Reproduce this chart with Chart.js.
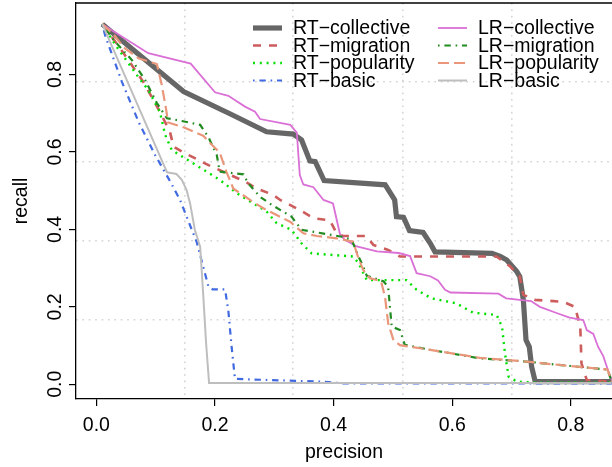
<!DOCTYPE html>
<html>
<head>
<meta charset="utf-8">
<script src="https://cdn.jsdelivr.net/npm/chart.js@4.4.1/dist/chart.umd.min.js"></script>
<style>
  html, body { margin: 0; padding: 0; background: #ffffff; }
  canvas { display: block; }
</style>
</head>
<body>
<canvas id="pr" width="612" height="467"></canvas>
<script>
// ── Data ─────────────────────────────────────────────────────────
const RT_COLLECTIVE_P = [0.010, 0.147, 0.226, 0.287, 0.332, 0.346, 0.360, 0.369, 0.384, 0.487, 0.503, 0.506, 0.518, 0.528, 0.551, 0.563, 0.571, 0.667, 0.681, 0.692, 0.709, 0.714, 0.720, 0.7245, 0.730, 0.734, 0.740, 0.869];
const RT_COLLECTIVE_R = [0.930, 0.756, 0.698, 0.652, 0.646, 0.631, 0.577, 0.575, 0.526, 0.515, 0.476, 0.433, 0.431, 0.397, 0.392, 0.364, 0.342, 0.338, 0.330, 0.321, 0.291, 0.278, 0.218, 0.114, 0.097, 0.045, 0.007, 0.007];

const RT_MIGRATION_P = [0.010, 0.040, 0.079, 0.107, 0.124, 0.130, 0.144, 0.189, 0.251, 0.270, 0.298, 0.310, 0.343, 0.366, 0.394, 0.405, 0.416, 0.455, 0.467, 0.492, 0.512, 0.675, 0.698, 0.714, 0.720, 0.740, 0.787, 0.807, 0.816, 0.818, 0.827, 0.869];
const RT_MIGRATION_R = [0.930, 0.868, 0.781, 0.704, 0.652, 0.614, 0.601, 0.566, 0.523, 0.506, 0.489, 0.476, 0.450, 0.429, 0.423, 0.390, 0.383, 0.383, 0.360, 0.347, 0.330, 0.330, 0.304, 0.278, 0.231, 0.218, 0.213, 0.200, 0.149, 0.054, 0.011, 0.007];

const RT_POPULARITY_P = [0.010, 0.034, 0.068, 0.0875, 0.107, 0.116, 0.127, 0.149, 0.208, 0.237, 0.287, 0.304, 0.329, 0.346, 0.363, 0.433, 0.442, 0.456, 0.523, 0.540, 0.565, 0.607, 0.635, 0.675, 0.684, 0.689, 0.695, 0.709, 0.740, 0.869];
const RT_POPULARITY_R = [0.930, 0.872, 0.799, 0.760, 0.704, 0.644, 0.605, 0.584, 0.528, 0.493, 0.446, 0.416, 0.399, 0.364, 0.338, 0.330, 0.313, 0.269, 0.269, 0.244, 0.222, 0.209, 0.185, 0.179, 0.149, 0.080, 0.020, 0.007, 0.004, 0.004];

const RT_BASIC_P = [0.010, 0.0145, 0.043, 0.071, 0.099, 0.124, 0.141, 0.169, 0.189, 0.196, 0.217, 0.2225, 0.228, 0.2337, 0.290, 0.377, 0.420, 0.869];
const RT_BASIC_R = [0.930, 0.902, 0.781, 0.678, 0.592, 0.525, 0.476, 0.368, 0.252, 0.245, 0.245, 0.190, 0.097, 0.014, 0.011, 0.007, 0.002, 0.002];

const LR_COLLECTIVE_P = [0.010, 0.0875, 0.159, 0.200, 0.2225, 0.2506, 0.2675, 0.276, 0.327, 0.338, 0.343, 0.349, 0.366, 0.383, 0.399, 0.411, 0.419, 0.439, 0.473, 0.510, 0.529, 0.540, 0.563, 0.576, 0.588, 0.597, 0.678, 0.691, 0.733, 0.748, 0.776, 0.798, 0.821, 0.827, 0.838, 0.846, 0.855, 0.863, 0.869];
const LR_COLLECTIVE_R = [0.930, 0.855, 0.828, 0.754, 0.745, 0.717, 0.704, 0.685, 0.670, 0.650, 0.540, 0.516, 0.509, 0.476, 0.467, 0.386, 0.373, 0.356, 0.343, 0.339, 0.331, 0.287, 0.279, 0.268, 0.244, 0.237, 0.234, 0.222, 0.215, 0.200, 0.184, 0.172, 0.166, 0.140, 0.130, 0.097, 0.072, 0.035, 0.012];

const LR_MIGRATION_P = [0.010, 0.029, 0.060, 0.082, 0.102, 0.119, 0.144, 0.175, 0.189, 0.203, 0.208, 0.226, 0.248, 0.256, 0.276, 0.296, 0.329, 0.346, 0.388, 0.414, 0.4305, 0.442, 0.450, 0.456, 0.484, 0.492, 0.495, 0.498, 0.512, 0.520, 0.563, 0.647, 0.731, 0.754, 0.862, 0.869];
const LR_MIGRATION_R = [0.930, 0.889, 0.837, 0.786, 0.726, 0.687, 0.680, 0.670, 0.638, 0.592, 0.549, 0.546, 0.542, 0.519, 0.484, 0.463, 0.433, 0.399, 0.388, 0.381, 0.373, 0.330, 0.304, 0.280, 0.266, 0.252, 0.200, 0.149, 0.140, 0.102, 0.089, 0.067, 0.058, 0.054, 0.038, 0.007];

const LR_POPULARITY_P = [0.010, 0.031, 0.046, 0.071, 0.102, 0.110, 0.117, 0.121, 0.148, 0.180, 0.190, 0.208, 0.219, 0.231, 0.243, 0.259, 0.2815, 0.304, 0.3265, 0.349, 0.372, 0.405, 0.433, 0.442, 0.450, 0.461, 0.480, 0.4867, 0.492, 0.501, 0.512, 0.563, 0.647, 0.731, 0.754, 0.862, 0.869];
const LR_POPULARITY_R = [0.930, 0.900, 0.870, 0.842, 0.827, 0.775, 0.715, 0.676, 0.663, 0.642, 0.626, 0.598, 0.550, 0.505, 0.493, 0.476, 0.4545, 0.437, 0.420, 0.390, 0.383, 0.377, 0.368, 0.325, 0.295, 0.274, 0.266, 0.226, 0.158, 0.114, 0.101, 0.089, 0.068, 0.058, 0.054, 0.038, 0.007];

const LR_BASIC_P = [0.010, 0.119, 0.121, 0.135, 0.144, 0.152, 0.158, 0.166, 0.175, 0.180, 0.185, 0.190, 0.869];
const LR_BASIC_R = [0.930, 0.548, 0.547, 0.543, 0.528, 0.502, 0.467, 0.399, 0.355, 0.235, 0.106, 0.003, 0.003];

const SERIES_NAMES = ['RT\u2212collective', 'RT\u2212migration', 'RT\u2212popularity', 'RT\u2212basic',
                      'LR\u2212collective', 'LR\u2212migration', 'LR\u2212popularity', 'LR\u2212basic'];

const X_TICKS = [0.0, 0.2, 0.4, 0.6, 0.8];
const Y_TICKS = [0.0, 0.2, 0.4, 0.6, 0.8];

// R grid(): 5 equal divisions of the plot region
const X_GRID = [0.149, 0.332, 0.516, 0.700];
const Y_GRID = [0.1665, 0.371, 0.5755, 0.780];

// ── Axis ranges (plot region, right side cropped like the original) ─
const X_MIN = -0.0344, X_MAX = 0.8695;
const Y_MIN = -0.038,  Y_MAX = 0.9846;

// ── Styles ───────────────────────────────────────────────────────
const FONT = { family: '"Liberation Sans", Arial, Helvetica, sans-serif', size: 19.5 };

const STYLES = [
    { color: '#666666', width: 5.2, dash: [] },
    { color: '#CD5C5C', width: 2.6, dash: [8, 8] },
    { color: '#00E000', width: 2.4, dash: [2, 4.8] },
    { color: '#4169E1', width: 2.2, dash: [1.6, 4.8, 6.4, 4.8] },
    { color: '#DA70D6', width: 1.8, dash: [] },
    { color: '#228B22', width: 2.2, dash: [1.6, 4.8, 6.4, 4.8] },
    { color: '#E9967A', width: 2.2, dash: [11, 5] },
    { color: '#BEBEBE', width: 2.0, dash: [] },
];

const SERIES = [
    [RT_COLLECTIVE_P, RT_COLLECTIVE_R],
    [RT_MIGRATION_P, RT_MIGRATION_R],
    [RT_POPULARITY_P, RT_POPULARITY_R],
    [RT_BASIC_P, RT_BASIC_R],
    [LR_COLLECTIVE_P, LR_COLLECTIVE_R],
    [LR_MIGRATION_P, LR_MIGRATION_R],
    [LR_POPULARITY_P, LR_POPULARITY_R],
    [LR_BASIC_P, LR_BASIC_R],
];

// legend layout (R legend, ncol = 2, bty = "n")
const LEG_COL_X = [253, 438];
const LEG_ROW_Y = [28, 45.5, 63, 80.5];
const LEG_SEG = 29;
const LEG_GAP = 11;

function zip(px, py) {
    const n = Math.min(px.length, py.length);
    const out = [];
    for (let i = 0; i < n; i++) out.push({ x: px[i], y: py[i] });
    return out;
}

const datasets = SERIES.map((s, i) => ({
    label: SERIES_NAMES[i],
    data: zip(s[0], s[1]),
    borderColor: STYLES[i].color,
    borderWidth: STYLES[i].width,
    borderDash: STYLES[i].dash,
    pointRadius: 0,
    tension: 0,
    fill: false,
    xAxisID: 'x',
    yAxisID: 'y',
    order: SERIES.length - i, // later series on top, as in R
}));

// no automatic label padding: plot region is fixed like R's
function noPad(ax) {
    ax.paddingTop = 0;
    ax.paddingBottom = 0;
    ax.paddingLeft = 0;
    ax.paddingRight = 0;
}

// ── Plugins ──────────────────────────────────────────────────────
const boxTop = {
    id: 'boxTop',
    afterDraw(chart) {
        const { ctx, chartArea } = chart;
        ctx.save();
        ctx.strokeStyle = '#000';
        ctx.lineWidth = 1.3;
        ctx.beginPath();
        ctx.moveTo(chartArea.left, chartArea.top);
        ctx.lineTo(chartArea.right, chartArea.top);
        ctx.stroke();
        ctx.restore();
    }
};

const rLegend = {
    id: 'rLegend',
    afterDatasetsDraw(chart) {
        const ctx = chart.ctx;
        ctx.save();
        ctx.font = FONT.size + 'px ' + FONT.family;
        ctx.textBaseline = 'middle';
        chart.data.datasets.forEach((ds, i) => {
            const x0 = LEG_COL_X[Math.floor(i / 4)];
            const y = LEG_ROW_Y[i % 4];
            ctx.save();
            ctx.strokeStyle = ds.borderColor;
            ctx.lineWidth = ds.borderWidth;
            ctx.setLineDash(ds.borderDash || []);
            ctx.beginPath();
            ctx.moveTo(x0, y);
            ctx.lineTo(x0 + LEG_SEG, y);
            ctx.stroke();
            ctx.restore();
            ctx.fillStyle = '#000';
            ctx.fillText(ds.label, x0 + LEG_SEG + LEG_GAP, y + 1);
        });
        ctx.restore();
    }
};

// ── Chart ────────────────────────────────────────────────────────
new Chart(document.getElementById('pr'), {
    type: 'line',
    data: { datasets },
    plugins: [boxTop, rLegend],
    options: {
        responsive: false,
        animation: false,
        layout: { padding: { top: 3, right: 0, bottom: 0, left: 0 } },
        plugins: { legend: { display: false }, tooltip: { enabled: false } },
        scales: {
            x: {
                type: 'linear', position: 'bottom', min: X_MIN, max: X_MAX,
                afterBuildTicks: ax => { ax.ticks = X_TICKS.map(v => ({ value: v })); },
                afterFit: ax => { ax.height = 68; noPad(ax); },
                ticks: {
                    font: FONT, color: '#000', padding: 8, autoSkip: false,
                    minRotation: 0, maxRotation: 0,
                    callback: v => Number(v).toFixed(1),
                },
                grid: { drawOnChartArea: false, tickLength: 7, color: '#000', lineWidth: 1.2 },
                border: { color: '#000', width: 1.3 },
                title: { display: true, text: 'precision', font: FONT, color: '#000', padding: { top: 0, bottom: 3 } },
            },
            xg: {
                type: 'linear', position: 'bottom', min: X_MIN, max: X_MAX,
                afterBuildTicks: ax => { ax.ticks = X_GRID.map(v => ({ value: v })); },
                afterFit: ax => { ax.height = 0; noPad(ax); },
                ticks: { display: false },
                grid: { drawTicks: false, color: '#d3d3d3', lineWidth: 1.6 },
                border: { display: false, dash: [1.6, 4.8] },
            },
            y: {
                type: 'linear', position: 'left', min: Y_MIN, max: Y_MAX,
                afterBuildTicks: ax => { ax.ticks = Y_TICKS.map(v => ({ value: v })); },
                afterFit: ax => { ax.width = 76; noPad(ax); },
                ticks: {
                    font: FONT, color: '#000', padding: 0, autoSkip: false,
                    minRotation: 90, maxRotation: 90, crossAlign: 'center',
                    callback: v => Number(v).toFixed(1),
                },
                grid: { drawOnChartArea: false, tickLength: 7, color: '#000', lineWidth: 1.2 },
                border: { color: '#000', width: 1.3 },
                title: { display: true, text: 'recall', font: FONT, color: '#000', padding: { top: 10, bottom: 0 } },
            },
            yg: {
                type: 'linear', position: 'left', min: Y_MIN, max: Y_MAX,
                afterBuildTicks: ax => { ax.ticks = Y_GRID.map(v => ({ value: v })); },
                afterFit: ax => { ax.width = 0; noPad(ax); },
                ticks: { display: false },
                grid: { drawTicks: false, color: '#d3d3d3', lineWidth: 1.6 },
                border: { display: false, dash: [1.6, 4.8] },
            },
        },
    },
});
</script>
</body>
</html>
